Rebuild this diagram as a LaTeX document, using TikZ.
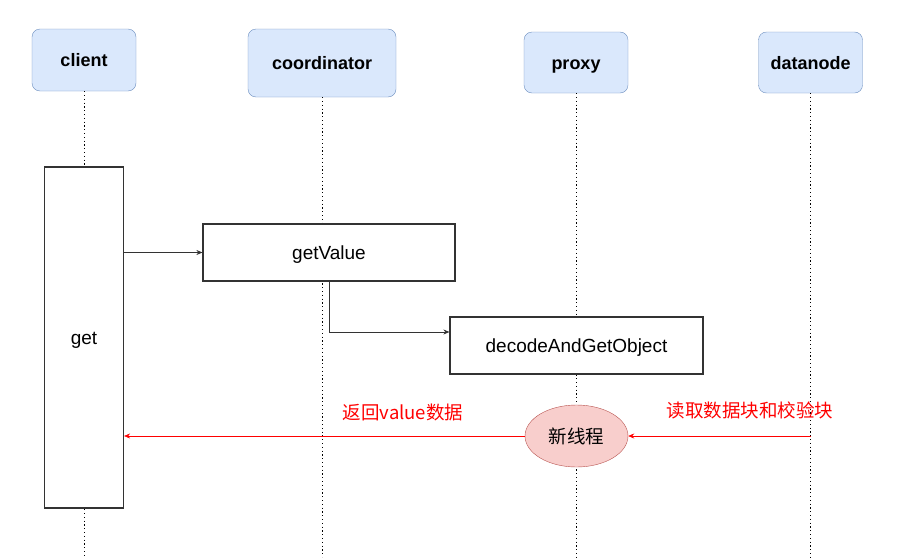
\documentclass[tikz,border=0pt]{standalone}
\usepackage{fontspec}
\setmainfont{Liberation Sans}
\newfontfamily\cjk{Noto Sans CJK SC}
\usetikzlibrary{arrows.meta,shapes.geometric}
\definecolor{headfill}{HTML}{DAE8FC}
\definecolor{headdraw}{HTML}{6C8EBF}
\definecolor{threadfill}{HTML}{F8CECC}
\definecolor{threaddraw}{HTML}{B85450}
\definecolor{boxdraw}{HTML}{333333}
\begin{document}
\begin{tikzpicture}[x=1pt,y=-1pt,
    head/.style={draw=headdraw,fill=headfill,rounded corners=8pt,inner sep=0pt,
        text height=13pt,text depth=0pt,font=\fontsize{18}{21}\selectfont\bfseries},
    call/.style={draw=boxdraw,line width=1.2pt,fill=white,inner sep=0pt,
        text height=13pt,text depth=0pt,font=\fontsize{19}{22}\selectfont},
    lifeline/.style={line width=1pt,dash pattern=on 1.2pt off 2.6pt},
    msg/.style={draw=boxdraw,line width=0.6pt,-{Stealth[length=6pt,width=5pt]}},
    back/.style={draw=red,line width=0.6pt,-{Stealth[length=6pt,width=5pt]}},
    note/.style={text=red,font=\cjk\fontsize{18.5}{22}\selectfont}]
    \useasboundingbox (0,0) rectangle (912,557);
    \coordinate (bottom) at (0,557);

    \node[head,minimum width=104pt,minimum height=62pt] (client) at (84,60) {client};
    \node[head,minimum width=148pt,minimum height=68pt] (coord) at (322,63) {coordinator};
    \node[head,minimum width=104pt,minimum height=61pt] (proxy) at (576,62.5) {proxy};
    \node[head,minimum width=104pt,minimum height=61pt] (datanode) at (810.5,62.5) {datanode};

    \foreach \n in {client,coord,proxy,datanode}{
        \draw[lifeline] (\n.south) -- (\n.south |- bottom);
    }

    \node[call,minimum width=79pt,minimum height=341pt] (get) at (84,337.5) {get};
    \node[call,minimum width=252pt,minimum height=57pt] (getValue) at (329,252.5) {getValue};
    \node[call,minimum width=253pt,minimum height=57pt] (decode) at (576.5,345.5) {decodeAndGetObject};
    \node[ellipse,draw=threaddraw,fill=threadfill,minimum width=103pt,minimum height=62pt,
        inner sep=0pt,font=\cjk\fontsize{18.5}{22}\selectfont] (thread) at (576.5,436) {新线程};

    \draw[msg] (get.east |- getValue.west) -- (getValue.west);
    \draw[msg] (getValue.south) |- ([yshift=13.5pt]decode.west);

    \coordinate (dnread) at (datanode.south |- thread.east);
    \draw[back] (dnread) -- (thread.east);
    \draw[back] (thread.west) -- (get.east |- thread.west);

    \node[note] (retlabel) at (403,412) {返回value数据};
    \node[note] (readlabel) at (750,410) {读取数据块和校验块};
\end{tikzpicture}
\end{document}
